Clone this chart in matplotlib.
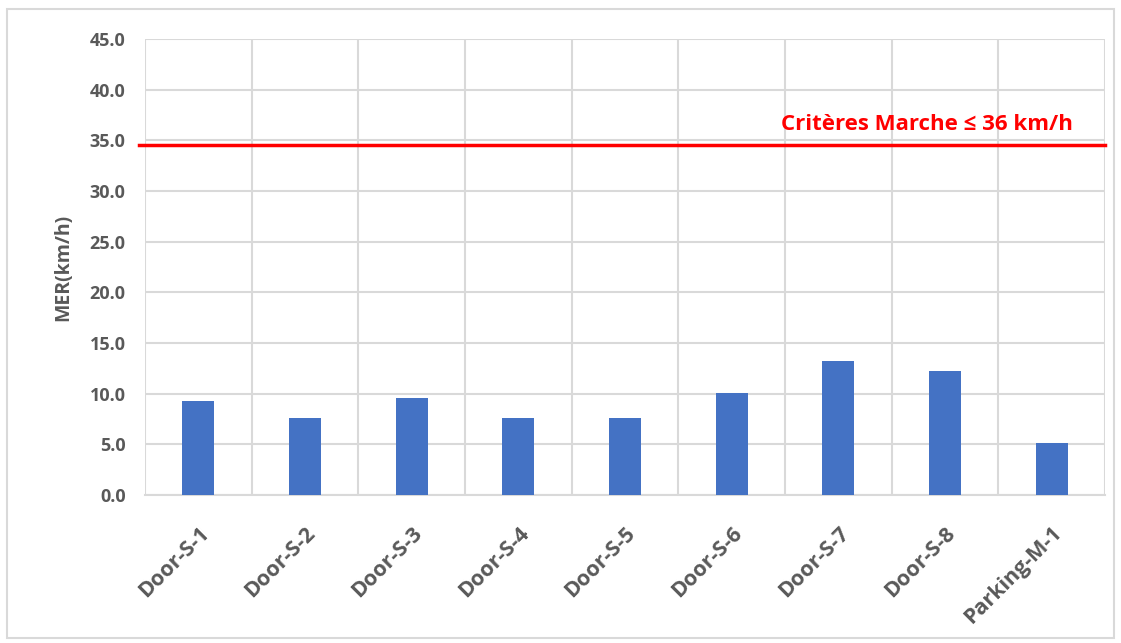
import matplotlib.pyplot as plt
import numpy as np
from matplotlib.patches import Rectangle

# Mean speed per location (km/h)
locations = ['Door-S-1', 'Door-S-2', 'Door-S-3', 'Door-S-4', 'Door-S-5',
             'Door-S-6', 'Door-S-7', 'Door-S-8', 'Parking-M-1']
mer_values = [9.3, 7.6, 9.6, 7.6, 7.6, 10.1, 13.2, 12.2, 5.1]
criterion_level = 34.5
criterion_label = 'Critères Marche ≤ 36 km/h'
y_ticks = [0, 5, 10, 15, 20, 25, 30, 35, 40, 45]

plt.rcParams['font.family'] = ['Open Sans', 'DejaVu Sans']
text_grey = '#595959'
grid_grey = '#D9D9D9'

fig = plt.figure(figsize=(11.21, 6.43), dpi=100)
ax = fig.add_axes([0.1293, 0.2302, 0.8564, 0.7091])

x = np.arange(len(locations))
ax.bar(x, mer_values, width=0.3, color='#4472C4', zorder=3)

ax.set_xlim(-0.5, len(locations) - 0.5)
ax.set_ylim(0, 45)
ax.set_yticks(y_ticks)
ax.set_yticklabels([f'{v:.1f}' for v in y_ticks], fontsize=13,
                   fontweight='bold', color=text_grey)
ax.set_xticks(x)
ax.set_xticklabels(locations, rotation=45, ha='right', rotation_mode='anchor',
                   fontsize=15.5, fontweight='bold', color=text_grey)
ax.tick_params(axis='both', length=0)
ax.tick_params(axis='y', pad=14)
ax.tick_params(axis='x', pad=20)

# category boundaries as vertical grid lines
ax.set_xticks(np.arange(-0.5, len(locations)), minor=True)
ax.tick_params(axis='x', which='minor', length=0)
ax.grid(True, which='minor', axis='x', color=grid_grey, linewidth=1.5, zorder=0)
ax.grid(True, which='major', axis='y', color=grid_grey, linewidth=1.5, zorder=0)
for side in ['top', 'right', 'left']:
    ax.spines[side].set_visible(False)
ax.spines['bottom'].set_color(grid_grey)
ax.spines['bottom'].set_linewidth(1.5)

ax.set_ylabel('MER(km/h)', fontsize=14, fontweight='bold', color=text_grey,
              labelpad=12)

# threshold line, reaching a bit left of the plot area
ax.plot([-0.56, len(locations) - 0.5], [criterion_level, criterion_level],
        color='#FF0000', linewidth=2.5, clip_on=False, zorder=4)
ax.text(len(locations) - 0.8, criterion_level + 1.0, criterion_label,
        color='#FF0000', fontsize=16, fontweight='bold', ha='right', va='bottom')

# light frame around the whole chart
fig.patches.append(Rectangle((0.006, 0.008), 0.988, 0.978, transform=fig.transFigure,
                             fill=False, edgecolor=grid_grey, linewidth=1.5))

fig.savefig('out.png', dpi=100)
